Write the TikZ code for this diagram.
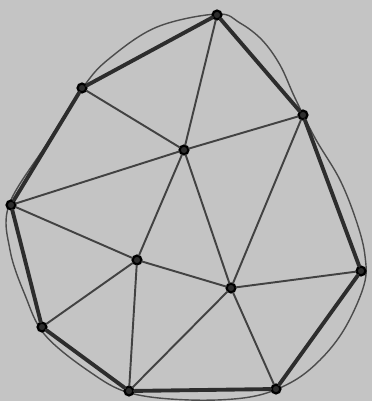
\documentclass[tikz,border=0pt]{standalone}
\usepackage{tikz}
\usetikzlibrary{positioning,calc}
\definecolor{paper}{RGB}{196,196,196}
\definecolor{pencil}{RGB}{45,45,45}
\tikzset{
vertex/.style={
draw=black,
circle,
line width=1.3pt,
fill=pencil,
inner sep=0pt,
minimum size=5pt
},
hull/.style={
draw=pencil,
line width=2.2pt,
line cap=round
},
edge/.style={
draw=pencil!90,
line width=1.1pt,
line cap=round
},
rim/.style={
draw=pencil!85,
line width=0.8pt
}
}
\begin{document}
\begin{tikzpicture}[x=0.02cm,y=-0.02cm]
\fill[paper](0,0)rectangle(372,401);
\useasboundingbox(0,0)rectangle(372,401);
% the round outline
\draw[rim]plot[smooth cycle,tension=0.6]coordinates{
(217,14)(240,23)(262,40)(280,65)(295,98)(315,138)(340,180)(357,223)
(365,256)(364,285)(345,328)(320,360)(290,383)(250,397)(190,400)
(130,393)(90,372)(45,335)(25,295)(10,250)(9,205)(46,145)
(84,86)(110,58)(157,27)};
% points
\node[vertex](top)at(217,15){};
\node[vertex](ul)at(82,88){};
\node[vertex](ur)at(303,115){};
\node[vertex](ctr)at(184,150){};
\node[vertex](lft)at(11,205){};
\node[vertex](ml)at(137,260){};
\node[vertex](mr)at(231,288){};
\node[vertex](rgt)at(361,271){};
\node[vertex](ll)at(42,327){};
\node[vertex](bl)at(129,391){};
\node[vertex](br)at(276,389){};

\foreach \x/\y in {top/ul,ul/lft,lft/ll,ll/bl,bl/br,br/rgt,rgt/ur,ur/top}
\draw[hull](\x)--(\y);
\foreach \x/\y in {top/ctr,ul/ctr,ur/ctr,lft/ctr,ctr/ml,ctr/mr,ur/mr,lft/ml,ml/mr,ml/ll,ml/bl,bl/mr,mr/br,mr/rgt}
\draw[edge](\x)--(\y);
\end{tikzpicture}
\end{document}
